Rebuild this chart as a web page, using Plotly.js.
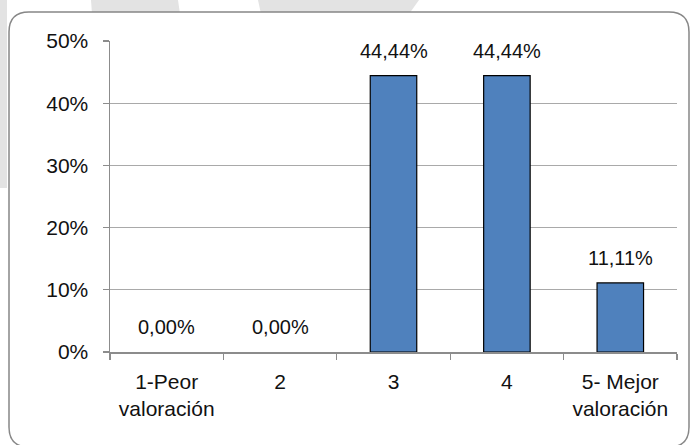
<!DOCTYPE html>
<html>
<head>
<meta charset="utf-8">
<script src="https://cdn.plot.ly/plotly-3.0.1.min.js"></script>
<style>html,body{margin:0;padding:0;background:#fff;}#chart{width:690px;height:445px;}</style>
</head>
<body>
<div id="chart"></div>
<script>
var categories = ['1-Peor<br>valoración', '2', '3', '4', '5- Mejor<br>valoración'];
var values = [0, 0, 0.4444, 0.4444, 0.1111];
var yTicks = [0, 0.1, 0.2, 0.3, 0.4, 0.5];
var yTickText = ['0%', '10%', '20%', '30%', '40%', '50%'];

var W = 690, H = 445, L = 110, R = 13, T = 41, B = 93;
var PW = W - L - R, PH = H - T - B;
function px(x) { return ((x - L) / PW).toFixed(5); }
function py(y) { return ((H - B - y) / PH).toFixed(5); }

var FONT = '"Liberation Sans", Arial, sans-serif';

function fmt(v) { return (v * 100).toFixed(2).replace('.', ',') + '%'; }

var annotations = values.map(function (v, i) {
  return {
    x: i, y: v, xref: 'x', yref: 'y',
    text: fmt(v), showarrow: false,
    yanchor: 'bottom', yshift: 12,
    font: {family: FONT, size: 20, color: '#111'}
  };
});

// rounded frame path
var x0 = 9, y0 = 12, x1 = 689, y1 = 447, r = 20;
var frame = 'M' + px(x0 + r) + ',' + py(y0) +
  ' L' + px(x1 - r) + ',' + py(y0) +
  ' Q' + px(x1) + ',' + py(y0) + ' ' + px(x1) + ',' + py(y0 + r) +
  ' L' + px(x1) + ',' + py(y1 - r) +
  ' Q' + px(x1) + ',' + py(y1) + ' ' + px(x1 - r) + ',' + py(y1) +
  ' L' + px(x0 + r) + ',' + py(y1) +
  ' Q' + px(x0) + ',' + py(y1) + ' ' + px(x0) + ',' + py(y1 - r) +
  ' L' + px(x0) + ',' + py(y0 + r) +
  ' Q' + px(x0) + ',' + py(y0) + ' ' + px(x0 + r) + ',' + py(y0) + ' Z';

function poly(pts) {
  return 'M' + pts.map(function (p) { return px(p[0]) + ',' + py(p[1]); }).join(' L') + ' Z';
}
var wm = '#e3e3e3';
var shapes = [
  {type: 'path', xref: 'paper', yref: 'paper', layer: 'below', path: poly([[0, 0], [7, 0], [7, 188], [0, 188]]), fillcolor: wm, line: {width: 0}},
  {type: 'path', xref: 'paper', yref: 'paper', layer: 'below', path: poly([[91, 0], [178, 0], [180, 14], [92, 14]]), fillcolor: wm, line: {width: 0}},
  {type: 'path', xref: 'paper', yref: 'paper', layer: 'below', path: poly([[258, 0], [419, 0], [409, 14], [261, 14]]), fillcolor: wm, line: {width: 0}},
  {type: 'path', xref: 'paper', yref: 'paper', layer: 'below', path: frame, fillcolor: '#ffffff', line: {color: '#878787', width: 1.5}}
];

var trace = {
  type: 'bar',
  x: categories,
  y: values,
  marker: {
    color: '#4f81bd',
    line: {color: '#000000', width: values.map(function (v) { return v > 0 ? 1.2 : 0; })}
  },
  hoverinfo: 'none'
};

var layout = {
  width: W, height: H,
  margin: {l: L, r: R, t: T, b: B, pad: 0},
  paper_bgcolor: '#ffffff',
  plot_bgcolor: 'rgba(0,0,0,0)',
  showlegend: false,
  bargap: 0.59,
  font: {family: FONT, size: 21, color: '#111'},
  xaxis: {
    type: 'category',
    showline: true, linecolor: '#8c8c8c', linewidth: 1.5,
    ticks: 'outside', tickson: 'boundaries', ticklen: 6, tickcolor: '#8c8c8c', tickwidth: 1.2,
    showgrid: false, zeroline: false,
    tickangle: 0,
    tickfont: {family: FONT, size: 21, color: '#111'},
    ticklabelstandoff: 10,
    fixedrange: true
  },
  yaxis: {
    range: [0, 0.5],
    tickvals: yTicks, ticktext: yTickText,
    showline: true, linecolor: '#8c8c8c', linewidth: 1.5,
    ticks: 'outside', ticklen: 6, tickcolor: '#8c8c8c', tickwidth: 1.2,
    showgrid: true, gridcolor: '#a9a9a9', gridwidth: 1.3,
    zeroline: false,
    tickfont: {family: FONT, size: 21, color: '#111'},
    ticklabelstandoff: 10,
    fixedrange: true
  },
  annotations: annotations,
  shapes: shapes
};

Plotly.newPlot('chart', [trace], layout, {staticPlot: true, displayModeBar: false});
</script>
</body>
</html>
